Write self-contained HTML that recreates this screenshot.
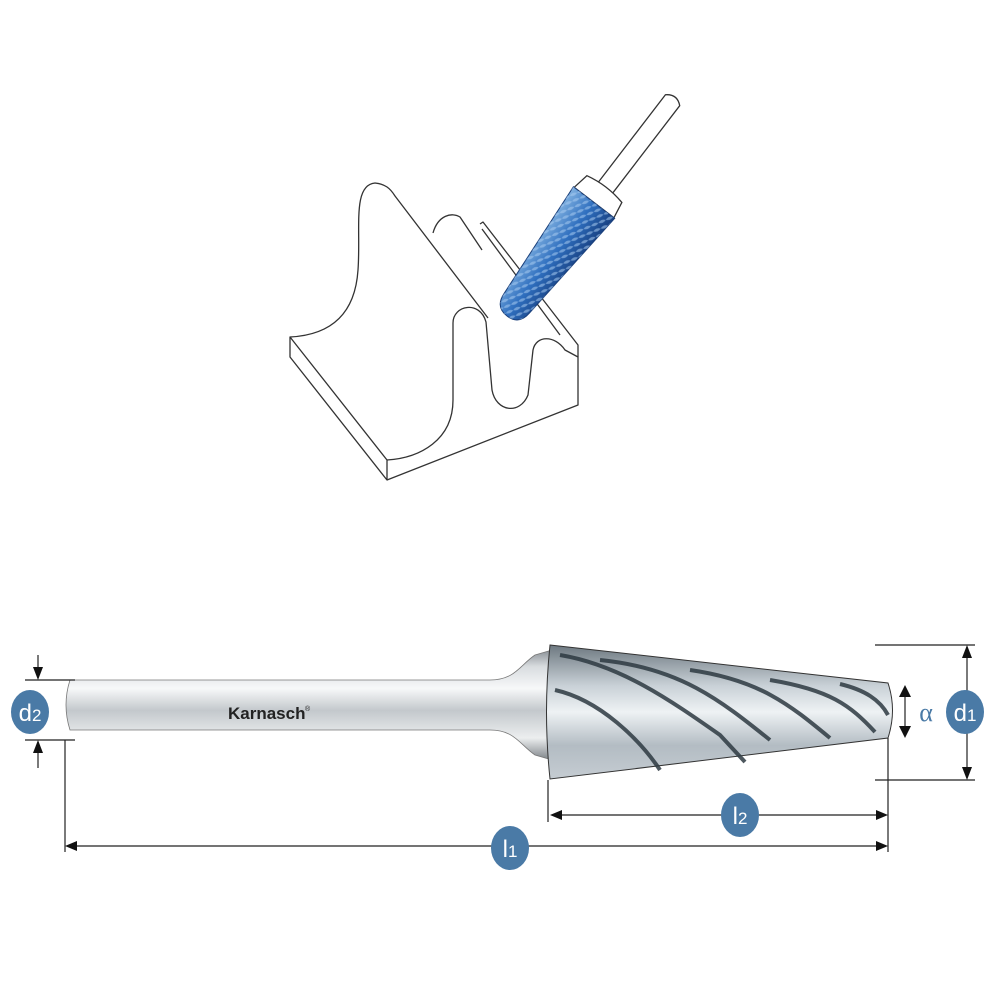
<!DOCTYPE html>
<html><head><meta charset="utf-8"><style>
html,body{margin:0;padding:0;background:#fff;}
svg{display:block}
</style></head><body>
<svg width="1000" height="1000" viewBox="0 0 1000 1000" xmlns="http://www.w3.org/2000/svg">
<defs>
<linearGradient id="sh" x1="0" y1="0" x2="0" y2="1">
<stop offset="0" stop-color="#8a9096"/><stop offset="0.15" stop-color="#d8dcdf"/>
<stop offset="0.35" stop-color="#f7f8f9"/><stop offset="0.55" stop-color="#c3c8cc"/>
<stop offset="0.8" stop-color="#eceeef"/><stop offset="1" stop-color="#7d8388"/>
</linearGradient>
<linearGradient id="cn" x1="0" y1="0" x2="0" y2="1">
<stop offset="0" stop-color="#6d7880"/><stop offset="0.3" stop-color="#c8d0d6"/>
<stop offset="0.5" stop-color="#eef2f4"/><stop offset="0.75" stop-color="#b3bcc3"/>
<stop offset="1" stop-color="#c5ccd2"/>
</linearGradient>
<linearGradient id="bl" x1="0" y1="0" x2="0" y2="1">
<stop offset="0" stop-color="#7fb0e0"/><stop offset="0.5" stop-color="#2f6fbf"/>
<stop offset="1" stop-color="#173f80"/>
</linearGradient>
<pattern id="kn" width="8" height="6" patternUnits="userSpaceOnUse" patternTransform="rotate(30)">
<path d="M0,3 Q4,0 8,3 Q4,6 0,3Z" fill="#a9cbf0" opacity="0.55"/>
</pattern>
</defs>

<!-- top illustration -->
<g fill="none" stroke="#333" stroke-width="1.3" stroke-linejoin="round">
<path d="M290,337 C330,335 355,315 358,270 C361,230 352,185 375,183 C385,184 390,188 395,196 L488,318"/>
<path d="M290,337 L387,460 L387,480 L290,357 Z"/>
<path d="M387,460 C420,458 453,440 453,400 L453,323 C453,305 480,300 486,322 L492,390 C496,412 520,415 528,395 L533,350 C536,335 555,335 565,350 L578,357 L578,405 L387,480"/>
<path d="M433,233 C438,215 452,212 460,217 L482,250"/>
<path d="M480,224 L483,222 L578,345 L578,357"/>
<path d="M482,229 L560,335"/>
</g>
<g transform="translate(507,316) rotate(-52.5)">
<path d="M160,-9 L272,-9 Q280,0 272,9 L160,9 Z" fill="#fff" stroke="#333" stroke-width="1.3"/>
<path d="M143,-25 L160,-22 Q165,0 160,22 L143,25 Z" fill="#fff" stroke="#333" stroke-width="1.3"/>
<path d="M143,-26 L143,26 L16,16 Q0,15 0,0 Q0,-15 16,-16 Z" fill="url(#bl)" stroke="#1a3f7a" stroke-width="1"/>
<path d="M143,-26 L143,26 L16,16 Q0,15 0,0 Q0,-15 16,-16 Z" fill="url(#kn)"/>
</g>

<!-- bottom tool -->
<path d="M70,680 L490,680 C515,680 520,665 535,655 L552,650 L552,760 L535,755 C520,745 515,730 490,730 L70,730 Q62,705 70,680Z" fill="url(#sh)" stroke="#777" stroke-width="0.8"/>
<path d="M550,645 L888,683 Q897,710 888,738 L550,779 Q543,712 550,645Z" fill="url(#cn)" stroke="#333" stroke-width="1"/>
<g stroke="#2e3a42" stroke-width="4" fill="none" opacity="0.85">
<path d="M560,655 C620,665 670,700 720,735 L745,762"/>
<path d="M600,660 C680,668 720,700 770,740"/>
<path d="M690,670 C760,680 790,705 830,738"/>
<path d="M770,680 C830,690 850,705 875,732"/>
<path d="M555,690 C600,700 640,740 660,770"/>
<path d="M840,684 C865,690 880,700 888,715"/>
</g>
<text x="228" y="719" font-family="Liberation Sans, sans-serif" font-weight="bold" font-size="17" fill="#222">Karnasch</text>
<text x="305" y="711" font-family="Liberation Sans, sans-serif" font-size="7" fill="#222">®</text>

<!-- dimension lines -->
<g stroke="#222" stroke-width="1.2" fill="none">
<line x1="25" y1="680" x2="75" y2="680"/><line x1="25" y1="740" x2="75" y2="740"/>
<line x1="38" y1="655" x2="38" y2="672"/><line x1="38" y1="748" x2="38" y2="768"/>
<line x1="65" y1="740" x2="65" y2="852"/>
<line x1="548" y1="780" x2="548" y2="822"/>
<line x1="888" y1="738" x2="888" y2="852"/>
<line x1="875" y1="645" x2="975" y2="645"/><line x1="875" y1="780" x2="975" y2="780"/>
<line x1="967" y1="655" x2="967" y2="770"/>
<line x1="905" y1="692" x2="905" y2="730"/>
<line x1="75" y1="846" x2="878" y2="846"/>
<line x1="560" y1="815" x2="878" y2="815"/>
</g>
<g fill="#111">
<path d="M33,667 L43,667 L38,680Z"/><path d="M33,753 L43,753 L38,740Z"/>
<path d="M65,846 L77,841 L77,851Z"/><path d="M888,846 L876,841 L876,851Z"/>
<path d="M550,815 L562,810 L562,820Z"/><path d="M888,815 L876,810 L876,820Z"/>
<path d="M967,645 L962,658 L972,658Z"/><path d="M967,780 L962,767 L972,767Z"/>
<path d="M905,685 L899,697 L911,697Z"/><path d="M905,738 L899,726 L911,726Z"/>
</g>

<!-- badges -->
<g fill="#4a7aa6">
<ellipse cx="30" cy="712" rx="19" ry="22"/>
<ellipse cx="965" cy="712" rx="19" ry="22"/>
<ellipse cx="740" cy="815" rx="19" ry="22"/>
<ellipse cx="510" cy="848" rx="19" ry="22"/>
</g>
<g font-family="Liberation Sans, sans-serif" font-size="24" fill="#fff" text-anchor="middle">
<text x="30" y="721">d<tspan font-size="17">2</tspan></text>
<text x="965" y="721">d<tspan font-size="17">1</tspan></text>
<text x="740" y="824">l<tspan font-size="17">2</tspan></text>
<text x="510" y="857">l<tspan font-size="17">1</tspan></text>
</g>
<text x="926" y="721" font-family="Liberation Serif, serif" font-size="26" fill="#4a7aa6" text-anchor="middle">α</text>
</svg>
</body></html>
